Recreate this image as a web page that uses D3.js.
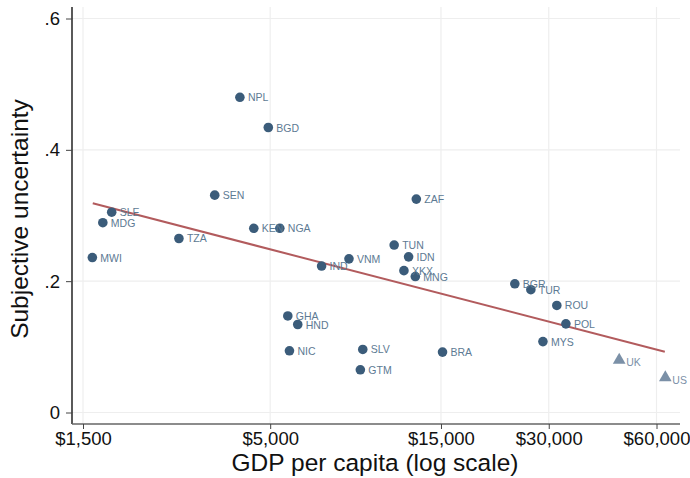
<!DOCTYPE html>
<html><head><meta charset="utf-8">
<script src="https://cdn.jsdelivr.net/npm/d3@7"></script>
<style>body{margin:0;background:#fff}svg{display:block}text{font-family:"Liberation Sans",Arial,sans-serif}</style>
</head><body>
<svg id="c" width="690" height="478"></svg>
<script>
const countries = ["NPL","BGD","SEN","ZAF","SLE","MDG","MWI","TZA","KEN","NGA","IND","VNM","TUN","IDN","XKX","MNG","BGR","TUR","ROU","POL","MYS","GHA","HND","NIC","SLV","GTM","BRA"];
const gdp = [4115,4940,3500,12800,1804,1704,1593,2780,4500,5320,6960,8300,11100,12180,11820,12720,24120,26740,31600,33500,28900,5600,5970,5660,9070,8930,15150];
const uncertainty = [0.480,0.434,0.331,0.325,0.305,0.289,0.236,0.265,0.2805,0.2805,0.223,0.234,0.255,0.237,0.216,0.207,0.196,0.187,0.163,0.135,0.108,0.147,0.134,0.094,0.096,0.065,0.092];
const refCountries = ["UK","US"];
const refGdp = [47200,63500];
const refUncertainty = [0.080,0.053];
const fitGdp = [1597,63300];
const fitUncertainty = [0.3186,0.0926];
const xTicks = [1500,5000,15000,30000,60000];
const yTicks = [0,0.2,0.4,0.6];

const svg = d3.select("#c");
const L=72, R=680, T=7, B=424;
const x = d3.scaleLog().domain([1500,60000]).range([83,656.5]);
const y = d3.scaleLinear().domain([0,0.6]).range([412.5,18.5]);

// gridlines
svg.append("g").selectAll("line").data(yTicks).join("line")
  .attr("x1",L).attr("x2",R).attr("y1",d=>y(d)).attr("y2",d=>y(d))
  .attr("stroke","#eeeeee").attr("stroke-width",1.2);
svg.append("g").selectAll("line").data(xTicks).join("line")
  .attr("y1",T).attr("y2",B).attr("x1",d=>x(d)).attr("x2",d=>x(d))
  .attr("stroke","#eeeeee").attr("stroke-width",1.2);

// axes
const yAxis = d3.axisLeft(y).tickValues(yTicks).tickSize(6).tickPadding(6)
  .tickFormat(d=> d===0 ? "0" : d3.format(".1f")(d).replace(/^0/,""));
const gy = svg.append("g").attr("transform",`translate(${L},0)`).call(yAxis);
gy.select(".domain").attr("d",`M0,${T}V${B}`).attr("stroke","#000").attr("stroke-width",1.3);
gy.selectAll(".tick line").attr("stroke","#444");
gy.selectAll(".tick text").attr("font-size",18.5).attr("fill","#111").attr("font-family","Liberation Sans, Arial, sans-serif");

const xAxis = d3.axisBottom(x).tickValues(xTicks).tickSize(5).tickPadding(3)
  .tickFormat(d=>"$"+d3.format(",")(d));
const gx = svg.append("g").attr("transform",`translate(0,${B})`).call(xAxis);
gx.select(".domain").attr("d",`M${L},0H${R}`).attr("stroke","#666").attr("stroke-width",1.5);
gx.selectAll(".tick line").attr("stroke","#444");
gx.selectAll(".tick text").attr("font-size",18.5).attr("fill","#111").attr("font-family","Liberation Sans, Arial, sans-serif");

// titles
svg.append("text").attr("x",375).attr("y",471).attr("text-anchor","middle")
  .attr("font-size",24.5).attr("fill","#111").text("GDP per capita (log scale)");
svg.append("text").attr("transform","translate(28,219) rotate(-90)").attr("text-anchor","middle")
  .attr("font-size",24.5).attr("fill","#111").text("Subjective uncertainty");

// fit line
svg.append("path").datum(fitGdp.map((g,i)=>[g,fitUncertainty[i]]))
  .attr("d",d3.line().x(d=>x(d[0])).y(d=>y(d[1])))
  .attr("stroke","#b25b5d").attr("stroke-width",2).attr("fill","none");

// points
const pts = countries.map((c,i)=>({c,g:gdp[i],u:uncertainty[i]}));
svg.append("g").selectAll("circle").data(pts).join("circle")
  .attr("cx",d=>x(d.g)).attr("cy",d=>y(d.u)).attr("r",4.8)
  .attr("fill","#3b5c7a");
svg.append("g").selectAll("text").data(pts).join("text")
  .attr("x",d=>x(d.g)+8).attr("y",d=>y(d.u)+4).attr("font-size",10.5)
  .attr("fill","#5d7a93").text(d=>d.c);

const refs = refCountries.map((c,i)=>({c,g:refGdp[i],u:refUncertainty[i]}));
svg.append("g").selectAll("path").data(refs).join("path")
  .attr("d",d3.symbol().type(d3.symbolTriangle).size(70))
  .attr("transform",d=>`translate(${x(d.g)},${y(d.u)})`)
  .attr("fill","#7b90a7");
svg.append("g").selectAll("text").data(refs).join("text")
  .attr("x",d=>x(d.g)+7).attr("y",d=>y(d.u)+6).attr("font-size",10.5)
  .attr("fill","#7b90a7").text(d=>d.c);
</script>
</body></html>
